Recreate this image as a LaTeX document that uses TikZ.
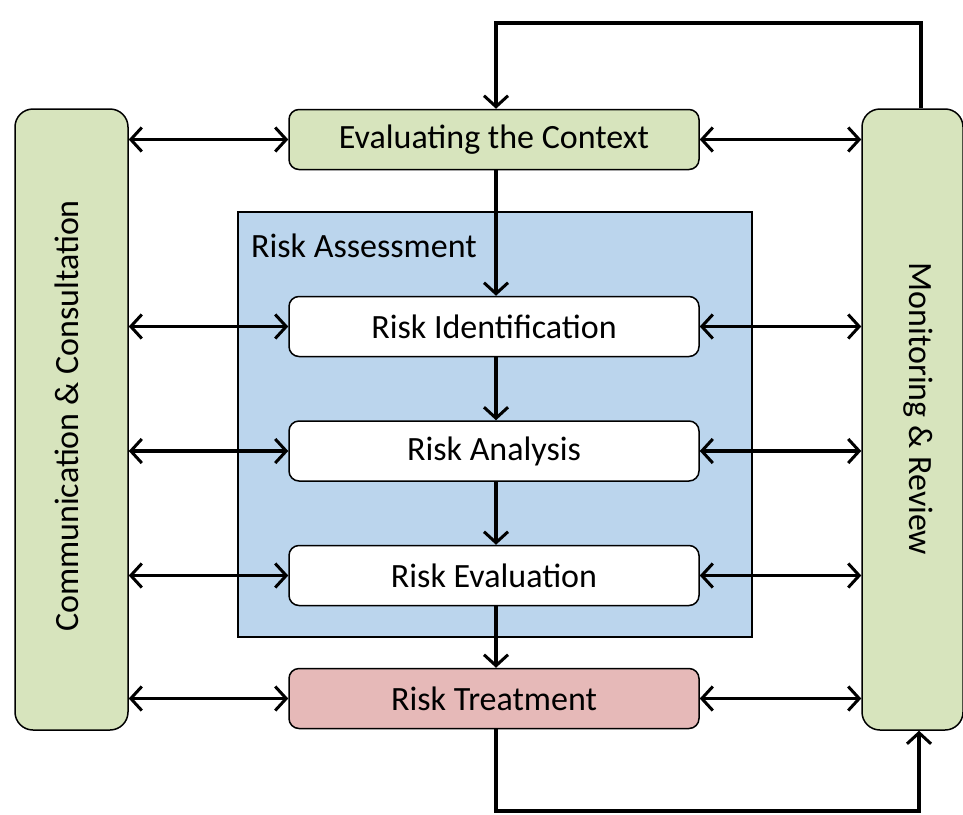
\documentclass[tikz,border=0pt]{standalone}
\usepackage{fontspec}
\setmainfont{Carlito}
\usetikzlibrary{arrows.meta}
\definecolor{boxgreen}{RGB}{215,228,189}
\definecolor{boxblue}{RGB}{187,213,237}
\definecolor{boxred}{RGB}{230,185,184}
\tikzset{
  tip/.tip={Straight Barb[length=11pt,width=24pt,line width=3pt]},
}
\begin{document}
\begin{tikzpicture}[x=1pt,y=-1pt,
  bigtext/.style={font=\fontsize{34}{40}\selectfont},
  stagebox/.style={draw=black,line width=1.5pt,rounded corners=10pt,minimum width=410pt,minimum height=60pt,inner sep=0pt,bigtext},
  sidebox/.style={draw=black,line width=1.5pt,rounded corners=18pt,inner sep=0pt},
  link/.style={line width=3.5pt,-tip},
  dlink/.style={line width=3.5pt,tip-tip}]
\useasboundingbox (0,0) rectangle (963,814);
% risk assessment region
\node[draw=black,line width=1.5pt,fill=boxblue,minimum width=514pt,minimum height=425pt,inner sep=0pt] (ra) at (495,424.5) {};
\node[anchor=base west,bigtext,inner sep=0pt] (ralabel) at (251,257) {Risk Assessment};
% side boxes
\node[sidebox,fill=boxgreen,minimum width=113pt,minimum height=621pt] (cc) at (71.5,419.5) {};
\node[rotate=90,bigtext] (cctext) at (67,416) {Communication \& Consultation};
\node[sidebox,fill=boxgreen,minimum width=101pt,minimum height=621pt] (mr) at (912.5,419.5) {};
\node[rotate=-90,bigtext] (mrtext) at (918,409) {Monitoring \& Review};
% stage boxes
\node[stagebox,fill=boxgreen] (ctx) at (494,139.5) {Evaluating the Context};
\node[stagebox,fill=white] (rid) at (494,326.5) {Risk Identification};
\node[stagebox,fill=white] (ran) at (494,451) {Risk Analysis};
\node[stagebox,fill=white] (rev) at (494,575.5) {Risk Evaluation};
\node[stagebox,fill=boxred] (rtr) at (494,698.5) {Risk Treatment};
% vertical flow
\draw[link] (ctx.south -| 496,0) -- (rid.north -| 496,0);
\draw[link] (rid.south -| 496,0) -- (ran.north -| 496,0);
\draw[link] (ran.south -| 496,0) -- (rev.north -| 496,0);
\draw[link] (rev.south -| 496,0) -- (rtr.north -| 496,0);
% double arrows
\foreach \n in {ctx,rid,ran,rev,rtr}{
  \draw[dlink] (cc.east |- \n.west) -- (\n.west);
  \draw[dlink] (\n.east) -- (mr.west |- \n.east);
}
% feedback loops
\coordinate (tl) at (496,23);
\coordinate (tr) at (921,23);
\draw[link] (mr.north -| tr) -- (tr) -- (tl) -- (ctx.north -| tl);
\coordinate (bl) at (496,811);
\coordinate (br) at (919,811);
\draw[link] (rtr.south -| bl) -- (bl) -- (br) -- (mr.south -| br);
\end{tikzpicture}
\end{document}
